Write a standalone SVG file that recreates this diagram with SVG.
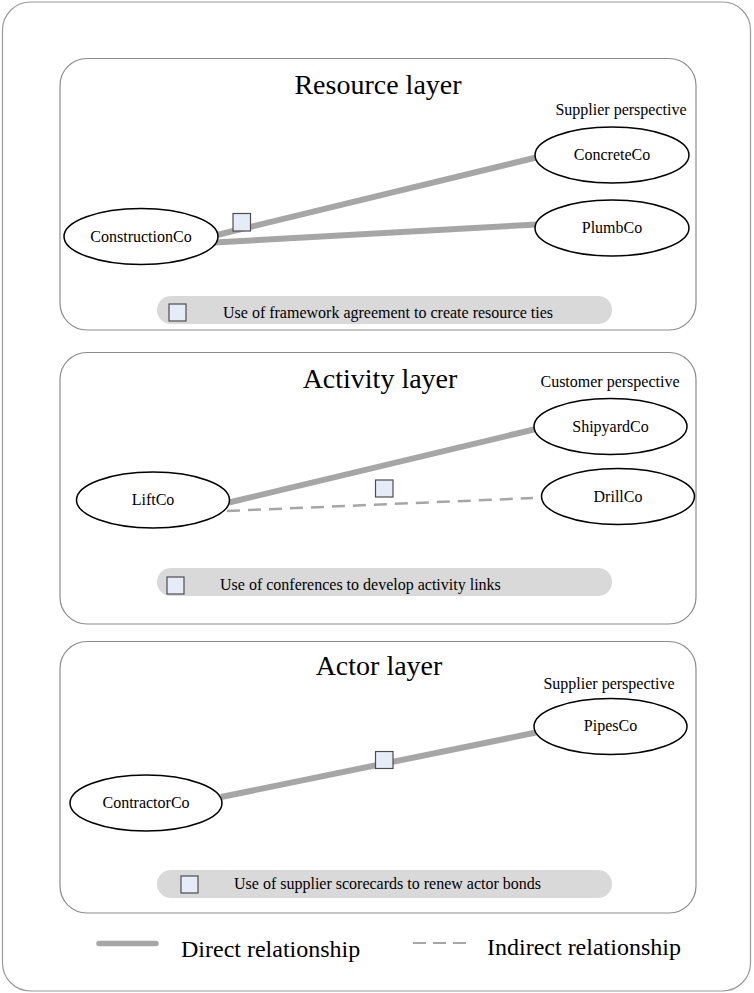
<svg xmlns="http://www.w3.org/2000/svg" width="754" height="993" viewBox="0 0 754 993">
<style>
.frame{fill:#fff;stroke:#999;stroke-width:1.2}
.panel{fill:#fff;stroke:#8c8c8c;stroke-width:1.2}
.node{fill:#fff;stroke:#000;stroke-width:1.5}
.t{font-family:"Liberation Serif","Times New Roman",serif;fill:#000}
.lbl{font-size:16px;text-anchor:middle}
.title{font-size:28px;text-anchor:middle}
.persp{font-size:16px;text-anchor:middle}
.leg{font-size:24px}
.direct{stroke:#a6a6a6;stroke-width:6;fill:none}
.indirect{stroke:#a6a6a6;stroke-width:2.5;fill:none;stroke-dasharray:13 8}
.mark{fill:#e6ecf7;stroke:#4d4d4d;stroke-width:1.2}
.bar{fill:#d9d9d9}
</style>
<rect class="frame" x="2.5" y="2" width="748" height="989" rx="28"/>

<g id="resource-layer">
<rect class="panel" x="60" y="58.5" width="636" height="271.5" rx="27"/>
<text class="t title" x="378" y="94">Resource layer</text>
<text class="t persp" x="621" y="115">Supplier perspective</text>
<rect class="bar" x="157" y="296" width="455" height="28" rx="14"/>
<rect class="mark" x="169" y="304" width="17" height="17"/>
<text class="t" font-size="16" x="223" y="318">Use of framework agreement to create resource ties</text>
</g>

<g id="activity-layer">
<rect class="panel" x="60" y="352.5" width="636" height="271.5" rx="27"/>
<text class="t title" x="380" y="388">Activity layer</text>
<text class="t persp" x="610" y="387">Customer perspective</text>
<rect class="bar" x="157" y="568" width="455" height="28" rx="14"/>
<rect class="mark" x="167" y="577" width="17" height="17"/>
<text class="t" font-size="16" x="220" y="590">Use of conferences to develop activity links</text>
</g>

<g id="actor-layer">
<rect class="panel" x="60" y="641.5" width="636" height="271.5" rx="27"/>
<text class="t title" x="379" y="675">Actor layer</text>
<text class="t persp" x="609" y="689">Supplier perspective</text>
<rect class="bar" x="157" y="870" width="455" height="28" rx="14"/>
<rect class="mark" x="181" y="876" width="17" height="17"/>
<text class="t" font-size="16" x="234" y="889">Use of supplier scorecards to renew actor bonds</text>
</g>

<g id="connectors">
<line class="direct" x1="217" y1="235" x2="536" y2="157.5"/>
<line class="direct" x1="214" y1="242.5" x2="537" y2="224.5"/>
<line class="direct" x1="229" y1="502.5" x2="536" y2="429"/>
<line class="indirect" x1="227" y1="511" x2="533" y2="498"/>
<line class="direct" x1="221" y1="797" x2="536" y2="732.5"/>
</g>

<g id="markers">
<rect class="mark" x="233" y="213.5" width="17.5" height="17.5"/>
<rect class="mark" x="375.5" y="480" width="17.5" height="17"/>
<rect class="mark" x="375.5" y="751.5" width="17.5" height="17"/>
</g>

<g id="node-constructionco">
<ellipse class="node" cx="141" cy="236.5" rx="77" ry="28"/>
<text class="t lbl" x="141" y="242">ConstructionCo</text>
</g>
<g id="node-concreteco">
<ellipse class="node" cx="612" cy="155" rx="77" ry="28"/>
<text class="t lbl" x="612" y="160">ConcreteCo</text>
</g>
<g id="node-plumbco">
<ellipse class="node" cx="612" cy="228" rx="77" ry="28"/>
<text class="t lbl" x="612" y="233">PlumbCo</text>
</g>
<g id="node-liftco">
<ellipse class="node" cx="153" cy="500" rx="76.5" ry="28"/>
<text class="t lbl" x="153" y="505">LiftCo</text>
</g>
<g id="node-shipyardco">
<ellipse class="node" cx="610.5" cy="426.5" rx="76.5" ry="28"/>
<text class="t lbl" x="610.5" y="432">ShipyardCo</text>
</g>
<g id="node-drillco">
<ellipse class="node" cx="618" cy="496.5" rx="76.5" ry="28"/>
<text class="t lbl" x="618" y="502">DrillCo</text>
</g>
<g id="node-pipesco">
<ellipse class="node" cx="610.5" cy="726.5" rx="76.5" ry="28"/>
<text class="t lbl" x="610.5" y="731">PipesCo</text>
</g>
<g id="node-contractorco">
<ellipse class="node" cx="146" cy="803" rx="76" ry="28"/>
<text class="t lbl" x="146" y="808">ContractorCo</text>
</g>

<g id="legend">
<line x1="99" y1="943.5" x2="156" y2="943.5" stroke="#a6a6a6" stroke-width="5.5" stroke-linecap="round"/>
<text class="t leg" x="181" y="957">Direct relationship</text>
<line x1="413" y1="943" x2="472" y2="943" stroke="#a6a6a6" stroke-width="1.8" stroke-dasharray="13 7"/>
<text class="t leg" x="487" y="955">Indirect relationship</text>
</g>
</svg>
